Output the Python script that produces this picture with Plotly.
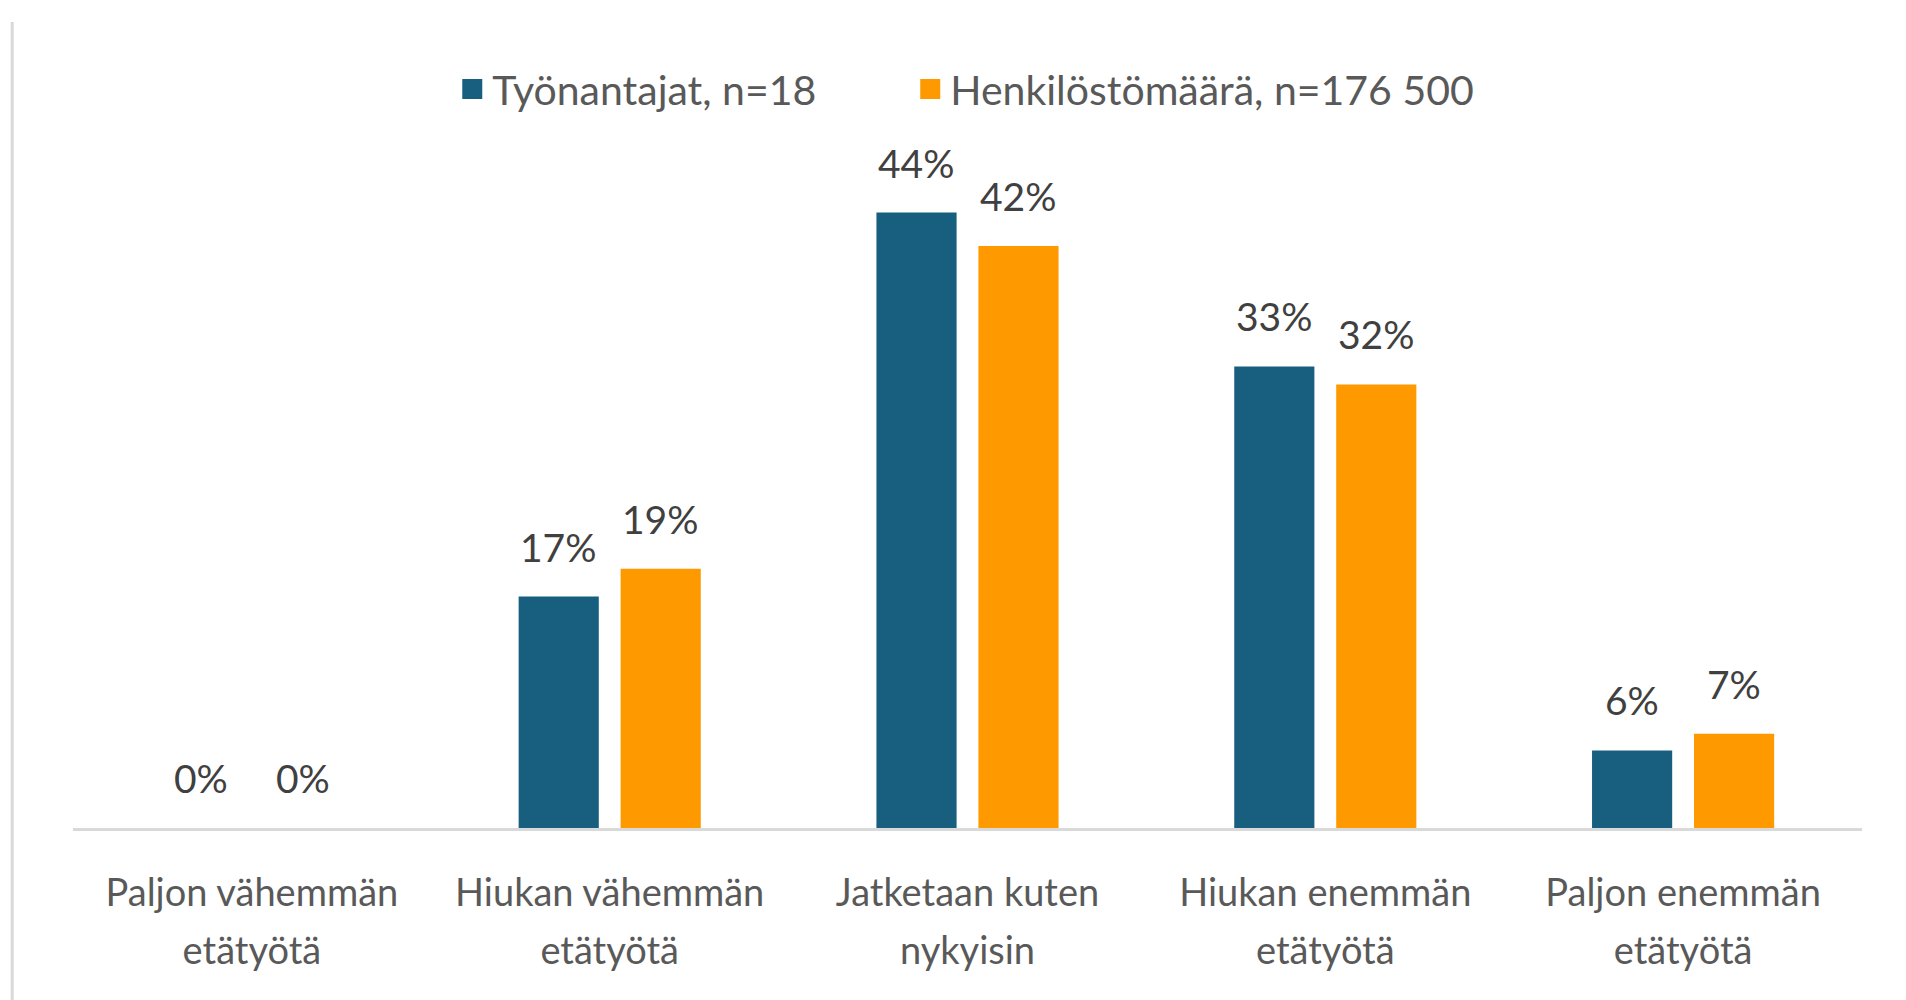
import plotly.graph_objects as go

categories = [
    "Paljon vähemmän\netätyötä",
    "Hiukan vähemmän\netätyötä",
    "Jatketaan kuten\nnykyisin",
    "Hiukan enemmän\netätyötä",
    "Paljon enemmän\netätyötä",
]
series_names = ["Työnantajat, n=18", "Henkilöstömäärä, n=176 500"]
employers = [0.0, 16.7, 44.4, 33.3, 5.6]
personnel = [0.0, 18.7, 42.0, 32.0, 6.8]
series_values = [employers, personnel]
colors = ["#175E7F", "#FF9900"]

FONT = "Lato"
BARGAP = 0.43
BARGROUPGAP = 0.214

x_idx = list(range(len(categories)))
label_line1 = [c.split("\n")[0] for c in categories]
label_line2 = [c.split("\n")[1] for c in categories]
n_series = len(series_values)
slot = (1 - BARGAP) / n_series
offsets = [(k - (n_series - 1) / 2) * slot for k in range(n_series)]
legend_ids = ["legend", "legend2"]

fig = go.Figure()
for name, vals, col in zip(series_names, series_values, colors):
    fig.add_trace(go.Bar(
        x=x_idx, y=vals, name=name, marker=dict(color=col, line=dict(width=0)),
        showlegend=False, hoverinfo="skip",
    ))
for name, col, lid in zip(series_names, colors, legend_ids):
    # legend entry with a larger square symbol
    fig.add_trace(go.Scatter(
        x=[None], y=[None], mode="markers", name=name, xaxis="x2", legend=lid,
        marker=dict(symbol="square", size=16, color=col, line=dict(width=4, color=col)),
        showlegend=True,
    ))

annotations = []
for vals, off in zip(series_values, offsets):
    for i, v in zip(x_idx, vals):
        annotations.append(dict(
            x=i + off, y=v, xref="x", yref="y", text=f"{v:.0f}%",
            showarrow=False, yanchor="middle", xanchor="center", yshift=50,
            font=dict(family=FONT, size=39, color="#404040"),
        ))

legend_font = dict(family=FONT, size=41, color="#595959")
fig.update_layout(
    width=1906, height=1000,
    margin=dict(l=65, r=52, t=127, b=180),
    paper_bgcolor="white", plot_bgcolor="white",
    barmode="group", bargap=BARGAP, bargroupgap=BARGROUPGAP,
    font=dict(family=FONT, color="#595959"),
    legend=dict(orientation="h", x=0.212, xanchor="left", y=1.066, yanchor="middle",
                font=legend_font),
    legend2=dict(orientation="h", x=0.468, xanchor="left", y=1.066, yanchor="middle",
                 font=legend_font),
    annotations=annotations,
    shapes=[dict(type="line", xref="paper", yref="paper",
                 x0=-0.034, x1=-0.034, y0=-0.3, y1=1.163,
                 line=dict(color="#d9d9d9", width=3))],
    showlegend=True,
)
tickfont = dict(family=FONT, size=38, color="#595959")
fig.update_layout(
    xaxis=dict(
        tickmode="array", tickvals=x_idx, ticktext=label_line1,
        range=[-0.5, len(categories) - 0.5],
        showline=True, linecolor="#d9d9d9", linewidth=3,
        showgrid=False, zeroline=False, ticks="",
        tickfont=tickfont, ticklabelstandoff=29,
    ),
    xaxis2=dict(
        overlaying="x", matches="x", anchor="y", side="bottom",
        tickmode="array", tickvals=x_idx, ticktext=label_line2,
        showline=False, showgrid=False, zeroline=False, ticks="",
        tickfont=tickfont, ticklabelstandoff=97,
    ),
    yaxis=dict(range=[0, 50], visible=False, showgrid=False, zeroline=False),
)

fig.write_html("out.html")
